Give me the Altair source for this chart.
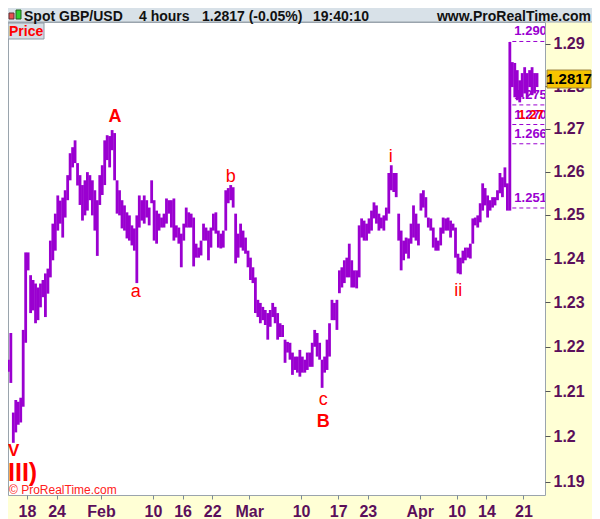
import altair as alt
import pandas as pd

# ---- data: 8-hour bars (3 per trading day), 13 Jan 2017 .. 24 Apr 2017 ----
first_day = "2017-01-13"
last_day = "2017-04-24"
bars_per_day = 3

bar_high = [
    1.2172, 1.2171, 1.2231, 1.2053, 1.2081, 1.2077, 1.2086, 1.2238, 1.2414, 1.2414, 1.2362, 1.2351,
    1.2343, 1.2334, 1.2343, 1.2351, 1.2366, 1.2377, 1.2441, 1.2480, 1.2503, 1.2545, 1.2533, 1.2540,
    1.2557, 1.2592, 1.2643, 1.2657, 1.2673, 1.2620, 1.2592, 1.2569, 1.2580, 1.2599, 1.2592, 1.2580,
    1.2557, 1.2534, 1.2592, 1.2615, 1.2673, 1.2685, 1.2683, 1.2697, 1.2690, 1.2580, 1.2557, 1.2534,
    1.2522, 1.2506, 1.2499, 1.2476, 1.2469, 1.2499, 1.2545, 1.2534, 1.2545, 1.2534, 1.2517, 1.2580,
    1.2534, 1.2510, 1.2503, 1.2494, 1.2503, 1.2538, 1.2534, 1.2534, 1.2538, 1.2476, 1.2471, 1.2457,
    1.2480, 1.2517, 1.2506, 1.2503, 1.2494, 1.2434, 1.2425, 1.2441, 1.2480, 1.2471, 1.2464, 1.2471,
    1.2503, 1.2506, 1.2464, 1.2457, 1.2464, 1.2557, 1.2562, 1.2569, 1.2564, 1.2503, 1.2457, 1.2480,
    1.2464, 1.2448, 1.2418, 1.2402, 1.2380, 1.2357, 1.2306, 1.2299, 1.2290, 1.2283, 1.2276, 1.2283,
    1.2299, 1.2290, 1.2276, 1.2253, 1.2249, 1.2216, 1.2211, 1.2209, 1.2187, 1.2178, 1.2178, 1.2193,
    1.2178, 1.2171, 1.2187, 1.2187, 1.2209, 1.2238, 1.2231, 1.2209, 1.2171, 1.2178, 1.2216, 1.2253,
    1.2306, 1.2299, 1.2306, 1.2373, 1.2380, 1.2396, 1.2402, 1.2434, 1.2396, 1.2373, 1.2373, 1.2476,
    1.2492, 1.2487, 1.2480, 1.2492, 1.2510, 1.2529, 1.2522, 1.2503, 1.2494, 1.2499, 1.2517, 1.2597,
    1.2615, 1.2597, 1.2597, 1.2503, 1.2464, 1.2441, 1.2448, 1.2446, 1.2480, 1.2522, 1.2503, 1.2480,
    1.2550, 1.2557, 1.2541, 1.2494, 1.2492, 1.2471, 1.2448, 1.2441, 1.2471, 1.2494, 1.2492, 1.2494,
    1.2487, 1.2480, 1.2471, 1.2411, 1.2402, 1.2418, 1.2425, 1.2425, 1.2434, 1.2492, 1.2494, 1.2499,
    1.2527, 1.2573, 1.2562, 1.2545, 1.2534, 1.2541, 1.2541, 1.2557, 1.2597, 1.2587, 1.2610, 1.2573,
    1.2905, 1.2857, 1.2855, 1.2838, 1.2814, 1.2831, 1.2845, 1.2831, 1.2838, 1.2845, 1.2831, 1.2831,
]
bar_low = [
    1.2160, 1.2144, 1.2119, 1.1986, 1.2009, 1.2026, 1.2031, 1.2066, 1.2209, 1.2373, 1.2276, 1.2282,
    1.2253, 1.2260, 1.2289, 1.2312, 1.2267, 1.2320, 1.2357, 1.2396, 1.2418, 1.2464, 1.2480, 1.2448,
    1.2494, 1.2534, 1.2580, 1.2610, 1.2620, 1.2568, 1.2523, 1.2487, 1.2499, 1.2510, 1.2534, 1.2499,
    1.2464, 1.2406, 1.2523, 1.2546, 1.2569, 1.2627, 1.2610, 1.2650, 1.2580, 1.2503, 1.2499, 1.2469,
    1.2464, 1.2446, 1.2441, 1.2430, 1.2418, 1.2344, 1.2471, 1.2487, 1.2480, 1.2494, 1.2476, 1.2527,
    1.2441, 1.2434, 1.2464, 1.2471, 1.2471, 1.2480, 1.2503, 1.2471, 1.2441, 1.2448, 1.2434, 1.2380,
    1.2441, 1.2471, 1.2471, 1.2471, 1.2382, 1.2402, 1.2402, 1.2407, 1.2441, 1.2441, 1.2396, 1.2425,
    1.2464, 1.2457, 1.2425, 1.2423, 1.2425, 1.2464, 1.2527, 1.2534, 1.2517, 1.2389, 1.2402, 1.2425,
    1.2418, 1.2411, 1.2380, 1.2351, 1.2344, 1.2276, 1.2267, 1.2253, 1.2260, 1.2249, 1.2216, 1.2245,
    1.2267, 1.2253, 1.2216, 1.2222, 1.2222, 1.2164, 1.2187, 1.2171, 1.2137, 1.2148, 1.2142, 1.2133,
    1.2142, 1.2142, 1.2148, 1.2155, 1.2155, 1.2200, 1.2178, 1.2171, 1.2108, 1.2142, 1.2148, 1.2178,
    1.2260, 1.2260, 1.2238, 1.2321, 1.2334, 1.2344, 1.2357, 1.2357, 1.2334, 1.2334, 1.2332, 1.2357,
    1.2448, 1.2441, 1.2441, 1.2457, 1.2464, 1.2492, 1.2480, 1.2464, 1.2469, 1.2464, 1.2487, 1.2503,
    1.2557, 1.2553, 1.2541, 1.2441, 1.2373, 1.2396, 1.2411, 1.2400, 1.2434, 1.2448, 1.2441, 1.2430,
    1.2510, 1.2517, 1.2494, 1.2471, 1.2464, 1.2425, 1.2418, 1.2418, 1.2430, 1.2457, 1.2464, 1.2464,
    1.2448, 1.2464, 1.2402, 1.2366, 1.2364, 1.2389, 1.2396, 1.2402, 1.2400, 1.2434, 1.2476, 1.2471,
    1.2483, 1.2510, 1.2522, 1.2494, 1.2510, 1.2517, 1.2522, 1.2534, 1.2550, 1.2541, 1.2564, 1.2510,
    1.2510, 1.2798, 1.2774, 1.2767, 1.2762, 1.2774, 1.2783, 1.2774, 1.2798, 1.2779, 1.2783, 1.2798,
]

tick_dates = ["2017-01-18", "2017-01-24", "2017-02-01", "2017-02-10", "2017-02-16", "2017-02-22",
              "2017-03-01", "2017-03-10", "2017-03-17", "2017-03-23", "2017-04-03", "2017-04-10",
              "2017-04-14", "2017-04-21"]
tick_labels = ["18", "24", "Feb", "10", "16", "22", "Mar", "10", "17", "23", "Apr", "10", "14", "21"]

price_ticks = [1.19, 1.20, 1.21, 1.22, 1.23, 1.24, 1.25, 1.26, 1.27, 1.28, 1.29]
last_price = 1.2817

level_prices = [1.2906, 1.2756, 1.2710, 1.2665, 1.2516]
level_texts = ["1.290", "1.275", "1.270", "1.266", "1.251"]
level_red_text = "1.27"

wave_texts = ["A", "a", "b", "c", "B", "i", "ii"]
wave_t = [14.9, 17.7, 30.5, 43.0, 43.0, 52.1, 61.2]
wave_price = [1.2727, 1.2324, 1.2587, 1.2081, 1.2033, 1.2634, 1.2326]
wave_bold = [True, False, False, False, True, False, False]

# ---- build tables ----
days = pd.bdate_range(first_day, last_day)
day_pos = {d.strftime("%Y-%m-%d"): i for i, d in enumerate(days)}
t_vals = [i + (k + 0.5) / bars_per_day for i in range(len(days)) for k in range(bars_per_day)]
n = min(len(t_vals), len(bar_high), len(bar_low))
bars = pd.DataFrame({"t": t_vals[:n], "hi": bar_high[:n], "lo": bar_low[:n]})

tick_vals = [day_pos[d] for d in tick_dates]
label_expr = " : ".join(f"datum.value == {v} ? '{l}'" for v, l in zip(tick_vals, tick_labels)) + " : ''"

x_dom = [0.45, 72.91]
y_dom = [1.18713, 1.29524]
W, H = 537, 473
PURPLE = "#9a00d0"
AXC = "#5b0f5b"
FONT = "Liberation Sans"

xs = alt.Scale(domain=x_dom, nice=False, zero=False)
ys = alt.Scale(type="log", domain=y_dom, nice=False)

price_bars = alt.Chart(bars).mark_rule(color=PURPLE, strokeWidth=2.8).encode(
    x=alt.X("t:Q", scale=xs, axis=alt.Axis(
        title="", values=tick_vals, labelExpr=label_expr, orient="bottom", grid=False,
        domain=False, tickSize=4, tickColor="#7a8a96", labelPadding=4, labelFont=FONT,
        labelFontSize=16, labelFontWeight="bold", labelColor=AXC, labelFlush=False)),
    y=alt.Y("lo:Q", scale=ys, axis=alt.Axis(
        title="", values=price_ticks, format=".2~f", orient="right", grid=False,
        domain=False, tickSize=5, tickColor="#555555", labelPadding=3, labelFont=FONT,
        labelFontSize=16, labelFontWeight="bold", labelColor=AXC)),
    y2="hi:Q",
)

lv_start = float(bars["t"].iloc[205])
levels = pd.DataFrame({"price": level_prices, "text": level_texts,
                       "t0": [lv_start] * len(level_prices), "t1": [x_dom[1]] * len(level_prices)})
level_lines = alt.Chart(levels).mark_rule(strokeDash=[4, 3], strokeWidth=1, color=PURPLE, clip=True).encode(
    x=alt.X("t0:Q", scale=xs), x2="t1:Q", y=alt.Y("price:Q", scale=ys))
level_labels = alt.Chart(levels).mark_text(align="left", baseline="bottom", dx=2, dy=-3, color=PURPLE,
                                           font=FONT, fontSize=13, fontWeight="bold", clip=True).encode(
    x=alt.X("t0:Q", scale=xs), y=alt.Y("price:Q", scale=ys), text="text:N")
red_df = pd.DataFrame({"t0": [lv_start], "price": [level_prices[2]], "text": [level_red_text]})
red_label = alt.Chart(red_df).mark_text(align="left", baseline="bottom", dx=6, dy=-3, color="#ff0000",
                                        font=FONT, fontSize=13, fontWeight="bold", clip=True).encode(
    x=alt.X("t0:Q", scale=xs), y=alt.Y("price:Q", scale=ys), text="text:N")

waves = pd.DataFrame({"t": wave_t, "price": wave_price, "text": wave_texts, "b": wave_bold})
wave_normal = alt.Chart(waves[~waves["b"]]).mark_text(
    color="#ff0000", font=FONT, fontSize=18, baseline="middle").encode(
    x=alt.X("t:Q", scale=xs), y=alt.Y("price:Q", scale=ys), text="text:N")
wave_bold_l = alt.Chart(waves[waves["b"]]).mark_text(
    color="#ff0000", font=FONT, fontSize=18, fontWeight="bold", baseline="middle").encode(
    x=alt.X("t:Q", scale=xs), y=alt.Y("price:Q", scale=ys), text="text:N")

corner = pd.DataFrame({"price": [1.1968, 1.1920], "text": ["V", "III)"]})
v_label = alt.Chart(corner.iloc[[0]]).mark_text(
    color="#ff0000", font=FONT, fontSize=17, fontWeight="bold", align="left", baseline="middle").encode(
    x=alt.value(0), y=alt.Y("price:Q", scale=ys), text="text:N")
big_label = alt.Chart(corner.iloc[[1]]).mark_text(
    color="#ff0000", font=FONT, fontSize=25, fontWeight="bold", align="left", baseline="middle").encode(
    x=alt.value(0), y=alt.Y("price:Q", scale=ys), text="text:N")

one = pd.DataFrame({"k": [0]})
CW = 584  # full canvas width

copyright_txt = alt.Chart(one).mark_text(text="\u00a9 ProRealTime.com", color="#ff2020", font=FONT,
                                         fontSize=12, align="left", baseline="middle").encode(
    x=alt.value(1), y=alt.value(H - 5))

price_box = alt.Chart(one).mark_rect(fill="#d5dde4", stroke="#8f9ba5", strokeWidth=1).encode(
    x=alt.value(0), x2=alt.value(36), y=alt.value(1), y2=alt.value(17))
price_txt = alt.Chart(one).mark_text(text="Price", color="#ff0000", font=FONT, fontSize=14,
                                     fontWeight="bold", align="left", baseline="alphabetic").encode(
    x=alt.value(1), y=alt.value(14))

header = alt.Chart(one).mark_rect(fill="#d8e1e8", stroke="#9aa4ad", strokeWidth=1).encode(
    x=alt.value(-1), x2=alt.value(CW + 1), y=alt.value(-15), y2=alt.value(0))
icon_red = alt.Chart(one).mark_rect(fill="#e85050", stroke="#603030", strokeWidth=1).encode(
    x=alt.value(1), x2=alt.value(6), y=alt.value(-9), y2=alt.value(-3))
icon_green = alt.Chart(one).mark_rect(fill="#30d030", stroke="#206020", strokeWidth=1).encode(
    x=alt.value(8), x2=alt.value(13), y=alt.value(-12), y2=alt.value(-3))
head_df = pd.DataFrame({"text": ["Spot GBP/USD", "4 hours", "1.2817 (-0.05%)", "19:40:10"],
                        "px": [16, 131, 194, 305]})
head_txt = alt.Chart(head_df).mark_text(color="#111111", font=FONT, fontSize=14, fontWeight="bold",
                                        align="left", baseline="alphabetic").encode(
    x=alt.X("px:Q", scale=None), y=alt.value(-1.5), text="text:N")
head_url = alt.Chart(one).mark_text(text="www.ProRealTime.com", color="#111111", font=FONT, fontSize=14,
                                    fontWeight="bold", align="right", baseline="alphabetic").encode(
    x=alt.value(CW - 1), y=alt.value(-1.5))

last_df = pd.DataFrame({"price": [last_price], "text": [f"{last_price:.4f}"]})
last_box = alt.Chart(last_df).mark_rect(fill="#f7c400", stroke="#9c8440", strokeWidth=1,
                                        yOffset=-9, y2Offset=9).encode(
    x=alt.value(W + 2), x2=alt.value(CW - 1), y=alt.Y("price:Q", scale=ys), y2="price:Q")
last_txt = alt.Chart(last_df).mark_text(color="#000000", font=FONT, fontSize=15, fontWeight="bold",
                                        align="center", baseline="middle").encode(
    x=alt.value((W + 2 + CW - 1) / 2), y=alt.Y("price:Q", scale=ys), text="text:N")

chart = alt.layer(
    price_bars, level_lines, level_labels, red_label, wave_normal, wave_bold_l, v_label, big_label,
    copyright_txt, price_box, price_txt, header, icon_red, icon_green, head_txt, head_url,
    last_box, last_txt,
).properties(
    width=W, height=H,
    autosize=alt.AutoSizeParams(type="none"),
    padding={"left": 0, "top": 14, "right": CW - W, "bottom": 24},
    background="#ffffd5",
).configure_view(fill="white", stroke="#9aa4ad", strokeWidth=1)

chart.save("out.html", embed_options={"renderer": "svg", "actions": False})
